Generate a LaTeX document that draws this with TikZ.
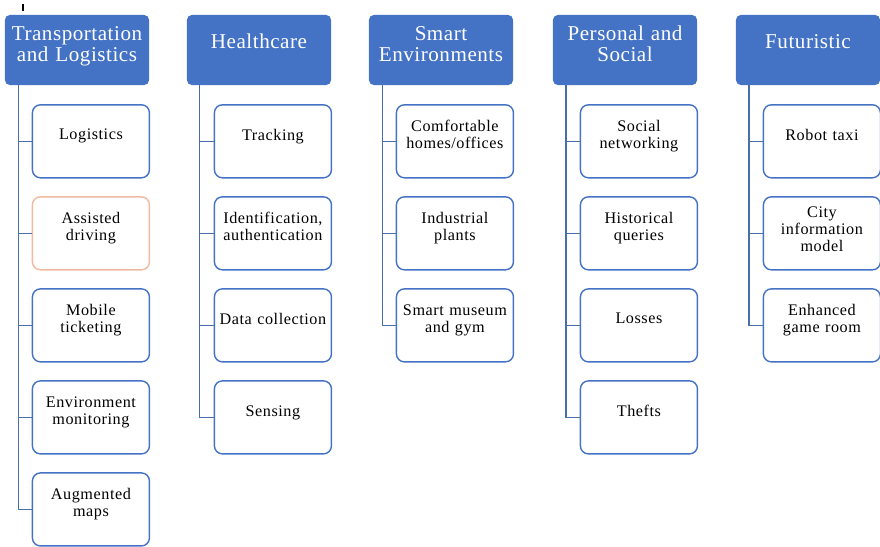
\documentclass[tikz,border=0pt]{standalone}
\usepackage{fontspec}
\setmainfont{Liberation Serif}
\newfontfamily\headfont[LetterSpace=2.5]{Liberation Serif}
\newfontfamily\itemfont[LetterSpace=3.5]{Liberation Serif}
\usetikzlibrary{positioning, calc}
\definecolor{headBlue}{RGB}{68, 114, 196}
\definecolor{linkBlue}{RGB}{72, 110, 172}
\definecolor{peachLine}{RGB}{240, 185, 160}

\begin{document}
\begin{tikzpicture}[
    x=0.025cm, y=-0.025cm,
    node distance=0.44cm,
    head/.style={rectangle, rounded corners=0.12cm, fill=headBlue, text=white, minimum width=3.6cm, minimum height=1.75cm, text width=3.55cm, align=center, inner sep=0pt, text depth=12pt, font=\headfont\fontsize{15}{15}\selectfont},
    item/.style={rectangle, rounded corners=0.2cm, draw=headBlue, line width=1pt, fill=white, minimum width=2.925cm, minimum height=1.825cm, text width=2.85cm, align=center, inner sep=0pt, text depth=9.5pt, font=\itemfont\fontsize{11.5}{12}\selectfont},
    twohead/.style={text depth=24pt},
    two/.style={text depth=21.5pt},
    three/.style={text depth=30pt},
    link/.style={draw=linkBlue, line width=0.9pt}
]
    \useasboundingbox (0,0) rectangle (880,546);
    \draw[line width=0.8pt] (23,4) -- (23,11);

    % column headers
    \node[head, twohead] (tl) at (77,50) {Transportation\\and Logistics};
    \node[head] (hc) at (259,50) {Healthcare};
    \node[head, twohead] (se) at (441,50) {Smart\\Environments};
    \node[head, twohead] (ps) at (625,50) {Personal and\\Social};
    \node[head] (fu) at (808,50) {Futuristic};

    % transportation and logistics
    \node[item, below right=0.47cm and 0.675cm of tl.south west] (tl1) {Logistics};
    \node[item, two, below=of tl1, draw=peachLine] (tl2) {Assisted\\driving};
    \node[item, two, below=of tl2] (tl3) {Mobile\\ticketing};
    \node[item, two, below=of tl3] (tl4) {Environment\\monitoring};
    \node[item, two, below=of tl4] (tl5) {Augmented\\maps};

    % healthcare
    \node[item, below right=0.47cm and 0.675cm of hc.south west] (hc1) {Tracking};
    \node[item, two, below=of hc1] (hc2) {Identification,\\authentication};
    \node[item, below=of hc2] (hc3) {Data collection};
    \node[item, below=of hc3] (hc4) {Sensing};

    % smart environments
    \node[item, two, below right=0.47cm and 0.675cm of se.south west] (se1) {Comfortable\\homes/offices};
    \node[item, two, below=of se1] (se2) {Industrial\\plants};
    \node[item, two, below=of se2] (se3) {Smart museum\\and gym};

    % personal and social
    \node[item, two, below right=0.47cm and 0.675cm of ps.south west] (ps1) {Social\\networking};
    \node[item, two, below=of ps1] (ps2) {Historical\\queries};
    \node[item, below=of ps2] (ps3) {Losses};
    \node[item, below=of ps3] (ps4) {Thefts};

    % futuristic
    \node[item, below right=0.47cm and 0.675cm of fu.south west] (fu1) {Robot taxi};
    \node[item, three, below=of fu1] (fu2) {City\\information\\model};
    \node[item, two, below=of fu2] (fu3) {Enhanced\\game room};

    % trunks and branches
    \coordinate (tlx) at ($(tl.south west)+(0.34cm,0)$);
    \coordinate (hcx) at ($(hc.south west)+(0.32cm,0)$);
    \coordinate (sex) at ($(se.south west)+(0.34cm,0)$);
    \coordinate (psx) at ($(ps.south west)+(0.33cm,0)$);
    \coordinate (fux) at ($(fu.south west)+(0.33cm,0)$);

    \draw[link] (tlx) |- (tl5.west);
    \draw[link] (tlx |- tl1.west) -- (tl1.west);
    \draw[link] (tlx |- tl2.west) -- (tl2.west);
    \draw[link] (tlx |- tl3.west) -- (tl3.west);
    \draw[link] (tlx |- tl4.west) -- (tl4.west);

    \draw[link] (hcx) |- (hc4.west);
    \draw[link] (hcx |- hc1.west) -- (hc1.west);
    \draw[link] (hcx |- hc2.west) -- (hc2.west);
    \draw[link] (hcx |- hc3.west) -- (hc3.west);

    \draw[link] (sex) |- (se3.west);
    \draw[link] (sex |- se1.west) -- (se1.west);
    \draw[link] (sex |- se2.west) -- (se2.west);

    \draw[link] (psx) |- (ps4.west);
    \draw[link] (psx |- ps1.west) -- (ps1.west);
    \draw[link] (psx |- ps2.west) -- (ps2.west);
    \draw[link] (psx |- ps3.west) -- (ps3.west);

    \draw[link] (fux) |- (fu3.west);
    \draw[link] (fux |- fu1.west) -- (fu1.west);
    \draw[link] (fux |- fu2.west) -- (fu2.west);
\end{tikzpicture}
\end{document}
